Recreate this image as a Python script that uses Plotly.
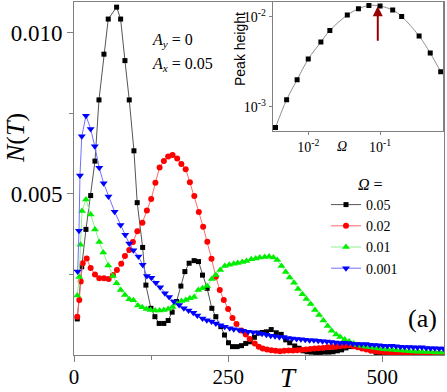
import numpy as np
import plotly.graph_objects as go

# ---------------- data (main panel) ----------------
# N(T) values are given in units of 1e-4
T_005 = [5.3, 12.5, 19.4, 27.0, 34.0, 40.5, 48.6, 55.5, 69.1, 75.6, 82.6, 89.6, 97.2, 102.5, 111.3, 116.6,
         124.7, 131.2, 138.1, 145.7, 152.7, 159.2, 166.3, 173.3, 179.8, 186.7, 194.8, 201.9, 208.4, 215.9,
         223.5, 230.0, 238.1, 244.0, 250.5, 257.0, 264.5, 271.6, 278.5, 286.2, 292.6, 298.8, 305.3, 312.1,
         319.8, 328.0, 336.0, 343.3, 349.8, 357.9, 364.9, 371.3, 378, 385, 392, 399, 406, 413, 420, 427,
         434, 441, 448, 455, 462, 469, 476, 483, 490, 497, 504, 511, 518, 525, 532, 539, 546, 553, 560,
         567, 574, 581, 588, 595]
N_005 = [11.2, 27.4, 39.0, 49.5, 60.2, 79.2, 93.4, 104.3, 108.0, 104.3, 91.4, 79.2, 63.4, 47.3, 33.4, 21.7,
         14.5, 11.9, 9.8, 9.8, 10.7, 13.3, 16.6, 21.4, 25.9, 28.5, 29.3, 29.0, 24.8, 20.7,
         14.5, 11.9, 8.8, 6.2, 3.8, 2.6, 2.6, 2.9, 3.6, 4.1, 5.5, 6.8, 7.0, 7.2,
         7.9, 6.9, 6.4, 4.7, 3.8, 2.8, 2.1, 1.3, 1.0, 0.9, 0.8, 0.8, 0.9, 0.9, 1.0, 1.3,
         1.6, 2.2, 2.6, 3.0, 3.1, 2.7, 2.0, 1.3, 0.8, 0.6, 0.5, 0.5, 0.4, 0.4, 0.4, 0.3, 0.3, 0.3, 0.3,
         0.3, 0.2, 0.2, 0.2, 0.2]

T_002 = [5.3, 8.6, 10.9, 14.1, 20.6, 27.0, 34.0, 41.0, 48.6, 56.2, 63.2, 69.6, 76.6, 82.6, 89.6, 95.5,
         102.8, 110.9, 118.2, 125.2, 132.0, 138.8, 145.7, 152.7, 159.8, 167.3, 174.1, 181.1, 187.9, 195.1,
         202.4, 209.4, 216.2, 223.0, 230.0, 236.4, 242.9, 249.9, 257.0, 263.5, 271.6, 278.5, 285.0, 293.1,
         299.6, 306, 313, 320, 327, 334, 341, 348, 355, 362, 369, 376, 383, 390, 397, 404, 411, 418, 425,
         432, 439, 446, 453, 460, 467, 474, 481, 488, 495, 502, 509, 516, 523, 530, 537, 544, 551, 558,
         565, 572, 579, 586, 593, 600]
N_002 = [11.9, 17.1, 22.8, 28.5, 30.0, 27.0, 25.0, 23.8, 23.8, 23.6, 24.8, 26.4, 28.3, 30.7, 32.6, 35.1,
         38.4, 41.1, 44.9, 48.4, 53.5, 58.2, 60.2, 61.6, 62.1, 61.0, 59.3, 57.7, 53.6, 49.4,
         44.4, 39.8, 35.2, 29.9, 24.3, 20.2, 17.1, 14.3, 11.5, 9.6, 7.6, 6.4, 5.0, 3.6,
         2.6, 2.0, 1.7, 1.5, 1.3, 1.2, 1.3, 1.4, 1.4, 1.5, 1.6, 1.7, 1.9, 2.0, 2.1, 2.2, 2.4, 2.5, 2.6,
         2.8, 2.9, 3.0, 2.7, 2.4, 2.0, 1.7, 1.4, 1.2, 1.0, 0.9, 0.8, 0.8, 0.7, 0.7, 0.7, 0.6, 0.6, 0.6,
         0.5, 0.5, 0.5, 0.5, 0.5, 0.4]

T_001 = [5.3, 8.6, 10.5, 13.0, 19.4, 27.0, 34.0, 41.0, 47.4, 55.5, 63.2, 69.1, 75.6, 82.6, 89.6, 96.4,
         103.6, 110.6, 117.4, 124.2, 131.7, 138.8, 145.7, 152.7, 159.8, 166.8, 174.4, 181.4, 187.9, 194.8,
         201.6, 208.4, 215.9, 223.5, 230.0, 237.2, 244.5, 251.8, 259.1, 265.6, 272.9, 279.7, 287.4, 294.7,
         301.2, 309.3, 316.3, 323.4, 329.6, 336.4, 343.3, 349.8, 356.8, 363.3, 370.4, 376.8, 383.8, 390.8,
         397.6, 404.4, 411.3, 417.8, 425.1, 431.6, 438.9, 446.2, 453.4, 459.9, 467, 474, 481, 488, 495,
         502, 509, 516, 523, 530, 537, 544, 551, 558, 565, 572, 579, 586, 593, 600]
N_001 = [18.5, 24.2, 34.2, 44.7, 48.3, 43.6, 39.0, 35.1, 31.8, 27.8, 24.5, 22.3, 20.2, 18.6, 17.3, 17.0,
         15.4, 14.8, 14.3, 14.0, 13.8, 13.8, 14.0, 14.3, 14.9, 16.0, 16.8, 17.1, 17.6, 18.0,
         20.2, 20.7, 21.4, 23.6, 24.8, 26.4, 27.6, 28.0, 28.3, 28.6, 28.9, 29.2, 29.7, 30.0,
         30.3, 30.4, 30.6, 30.3, 29.5, 27.6, 25.8, 24.1, 22.4, 20.5, 18.9, 17.4, 15.8, 14.0,
         12.4, 10.7, 9.0, 7.5, 6.4, 5.6, 4.8, 4.2, 3.6, 3.1, 2.8, 2.6, 2.4, 2.2, 2.0,
         1.8, 1.7, 1.6, 1.5, 1.4, 1.3, 1.2, 1.1, 1.0, 1.0, 0.9, 0.9, 0.8, 0.8, 0.8]

T_0001 = [6.0, 8.1, 9.7, 12.6, 19.4, 27.0, 33.7, 41.0, 48.1, 55.9, 65.9, 75.6, 83.1, 89.6, 96.4, 104.5,
          111.3, 118.2, 125.5, 132.8, 139.8, 147.4, 154.3, 161.9, 170.5, 178.1, 185.8, 193.5, 200.0, 208.4,
          215.4, 223.0, 230.0, 237.6, 244.5, 252.6, 259.1, 267.7, 274.2, 282.3, 290.4, 298.5, 305, 312, 319,
          326, 333, 340, 347, 354, 361, 368, 375, 382, 389, 396, 403, 410, 417, 424, 431, 438, 445, 452,
          459, 466, 473, 480, 487, 494, 501, 508, 515, 522, 529, 536, 543, 550, 557, 564, 571, 578, 585,
          592, 599]
N_0001 = [25.9, 38.6, 55.7, 67.9, 74.3, 70.2, 64.8, 58.1, 53.3, 49.2, 44.5, 40.4, 37.3, 34.6, 32.5, 30.6,
          28.0, 24.5, 24.0, 22.4, 21.0, 19.2, 18.0, 16.6, 15.5, 14.5, 13.8, 13.1, 12.3, 11.3,
          10.8, 10.4, 9.8, 9.2, 8.8, 8.3, 8.0, 7.8, 7.5, 7.2, 7.1, 6.8, 6.6, 6.3, 6.0,
          5.8, 5.6, 5.6, 5.3, 5.1, 5.0, 4.9, 4.7, 4.6, 4.6, 4.4, 4.3, 4.2, 4.0, 3.9, 3.7, 3.8, 3.7, 3.5,
          3.4, 3.3, 3.4, 3.2, 3.1, 3.0, 2.9, 2.8, 2.9, 2.7, 2.6, 2.5, 2.5, 2.4, 2.3, 2.4, 2.2, 2.1, 2.1,
          2.0, 2.0]

legend_labels = ["0.05", "0.02", "0.01", "0.001"]

# ---------------- data (inset) ----------------
Omega_inset = [0.0035, 0.005, 0.007, 0.01, 0.015, 0.02, 0.035, 0.05, 0.07, 0.1, 0.15, 0.2, 0.35, 0.5, 0.7]
Peak_inset = [0.00059, 0.0012, 0.0020, 0.00339, 0.00524, 0.00705, 0.01045, 0.01227, 0.01336, 0.01315,
              0.01186, 0.01008, 0.00611, 0.00395, 0.00245]

x_ticks = [0, 250, 500]
y_ticks = [0.005, 0.010]
y_ticktext = ["0.005", "0.010"]

# ---------------- figure ----------------
W, H = 447, 392
L, R, TOP, BOT = 74, 444, 2, 355


def px(x):
    return (x - L) / (R - L)


def py(y):
    return (BOT - y) / (BOT - TOP)


SERIF = "Liberation Serif, Times New Roman, serif"
AX = "#808080"

fig = go.Figure()
styles = [
    (T_005, N_005, "square", 5, "#000000", "#555555"),
    (T_002, N_002, "circle", 6, "#ff0000", "#ff6a6a"),
    (T_001, N_001, "triangle-up", 7, "#00ee00", "#90ee90"),
    (T_0001, N_0001, "triangle-down", 7, "#0000ff", "#7070ff"),
]
for (T, N, sym, sz, mc, lc), name in zip(styles, legend_labels):
    fig.add_trace(go.Scatter(
        x=T, y=np.array(N) * 1e-4, mode="lines+markers", name=name,
        marker=dict(symbol=sym, size=sz, color=mc, line=dict(width=0)),
        line=dict(color=lc, width=1),
    ))

fig.add_trace(go.Scatter(
    x=Omega_inset, y=Peak_inset, xaxis="x2", yaxis="y2", mode="lines+markers", showlegend=False,
    marker=dict(symbol="square", size=5, color="#000000"),
    line=dict(color="#909090", width=1, shape="spline"),
))

axis_common = dict(showline=True, linecolor=AX, linewidth=1, mirror=True, showgrid=False, zeroline=False,
                   ticks="outside", tickcolor=AX, ticklen=6)

fig.update_layout(
    width=W, height=H,
    margin=dict(l=L, r=W - R, t=TOP, b=H - BOT, autoexpand=False),
    paper_bgcolor="white", plot_bgcolor="white",
    font=dict(family=SERIF, color="black"),
    xaxis=dict(domain=[0, 1], range=[0, 600], tickvals=x_ticks,
               tickfont=dict(size=21, family=SERIF), ticklabelstandoff=-3,
               minor=dict(tickvals=[125, 375], ticks="outside", ticklen=4, tickcolor=AX),
               **axis_common),
    yaxis=dict(domain=[0, 1], range=[0, 0.01096], tickvals=y_ticks, ticktext=y_ticktext,
               tickfont=dict(size=23, family=SERIF),
               minor=dict(tickvals=[0.0025, 0.0075], ticks="outside", ticklen=4, tickcolor=AX),
               **axis_common),
    xaxis2=dict(domain=[px(272.7), px(443.3)], anchor="y2", type="log", range=[-2.495, -0.119],
                tickvals=[0.01, 0.1], ticktext=["10<sup>-2</sup>", "10<sup>-1</sup>"],
                tickfont=dict(size=14, family=SERIF),
                showline=True, linecolor=AX, linewidth=1, mirror=True, showgrid=False, zeroline=False,
                ticks="outside", tickcolor=AX, ticklen=3),
    yaxis2=dict(domain=[py(131), 1.0], anchor="x2", type="log", range=[-3.268, -1.836],
                tickvals=[0.001, 0.01], ticktext=["10<sup>-3</sup>", "10<sup>-2</sup>"],
                tickfont=dict(size=14, family=SERIF),
                showline=True, linecolor=AX, linewidth=1, mirror=True, showgrid=False, zeroline=False,
                ticks="outside", tickcolor=AX, ticklen=3),
    legend=dict(x=px(326), y=py(189), xanchor="left", yanchor="top", bgcolor="rgba(0,0,0,0)",
                font=dict(size=14, family=SERIF), itemwidth=30, tracegroupgap=0),
)

ann = [
    dict(text="<i>N</i>(<i>T</i>)", x=px(15), y=py(138), textangle=-90, font=dict(size=26)),
    dict(text="<i>T</i>", x=px(288), y=py(378), font=dict(size=27)),
    dict(text="<i>A</i><sub><i>y</i></sub> = 0", x=px(150), y=py(40), xanchor="left", font=dict(size=16)),
    dict(text="<i>A</i><sub><i>x</i></sub> = 0.05", x=px(150), y=py(64), xanchor="left", font=dict(size=16)),
    dict(text="(a)", x=px(422), y=py(318), font=dict(size=26)),
    dict(text="<i>Ω</i> =", x=px(370), y=py(185), font=dict(size=16)),
    dict(text="<i>Ω</i>", x=px(342), y=py(146), font=dict(size=14)),
    dict(text="Peak height", x=px(240), y=py(49), textangle=-90,
         font=dict(size=14, family="Liberation Sans, Arial, sans-serif")),
]
for a in ann:
    a.setdefault("xref", "paper")
    a.setdefault("yref", "paper")
    a.setdefault("xanchor", "center")
    a.setdefault("yanchor", "middle")
    a.setdefault("showarrow", False)
    fig.add_annotation(**a)

# arrow in the inset pointing at the maximum
fig.add_annotation(xref="x2", yref="y2", x=np.log10(0.093), y=np.log10(0.0131), ax=0, ay=36,
                   text="", showarrow=True, arrowhead=2, arrowsize=1, arrowwidth=2, arrowcolor="#990000")

fig.write_html("out.html", config={"displayModeBar": False},
               post_script="document.body.style.margin='0';document.body.style.padding='0';")
